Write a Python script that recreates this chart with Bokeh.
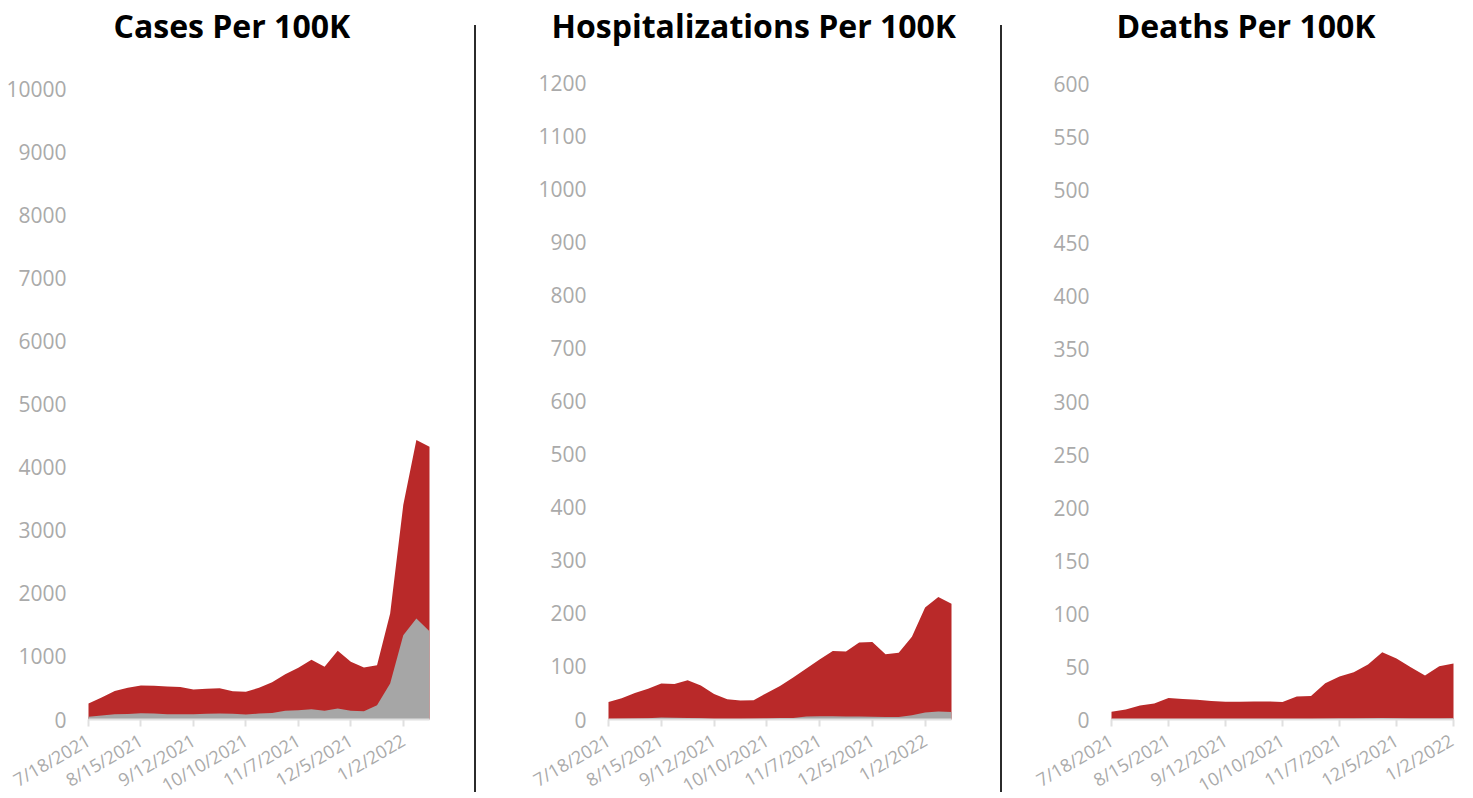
import math
from bokeh.plotting import figure
from bokeh.layouts import row
from bokeh.models import (Range1d, FixedTicker, SingleIntervalTicker, ColumnDataSource,
                          Div, Title)
from bokeh.embed import file_html
from bokeh.resources import INLINE

# ---------------- data ----------------
weeks = ["7/18/2021", "7/25/2021", "8/1/2021", "8/8/2021", "8/15/2021", "8/22/2021",
         "8/29/2021", "9/5/2021", "9/12/2021", "9/19/2021", "9/26/2021", "10/3/2021",
         "10/10/2021", "10/17/2021", "10/24/2021", "10/31/2021", "11/7/2021", "11/14/2021",
         "11/21/2021", "11/28/2021", "12/5/2021", "12/12/2021", "12/19/2021", "12/26/2021",
         "1/2/2022", "1/9/2022", "1/16/2022"]

cases_unvax = [254, 349, 454, 502, 540, 535, 525, 514, 476, 487, 497, 450, 439,
               502, 592, 719, 820, 947, 836, 1090, 915, 825, 862, 1683, 3401, 4433, 4327]
cases_vax = [42, 63, 84, 88, 100, 95, 84, 84, 84, 90, 95, 90, 79,
             95, 105, 137, 148, 164, 137, 175, 137, 132, 227, 571, 1338, 1603, 1401]

hosp_unvax = [33, 40, 50, 58, 68, 67, 74, 64, 48, 38, 36, 36.5, 50,
              63, 79, 96, 113, 129, 128, 145, 146, 123, 126, 156, 211, 231, 218]
hosp_vax = [1, 1.5, 2, 2.5, 4, 3.5, 3, 2.5, 1, 1, 1, 1.5, 2,
            3, 3, 5.5, 6, 6, 5.5, 5.5, 5, 4.5, 4.5, 8, 13, 15, 14]

deaths_unvax = [7.3, 9.5, 13.3, 15.2, 20.3, 19.3, 18.7, 17.4, 16.8, 16.8, 17.1, 17.1, 16.5,
                21.8, 22.2, 34.2, 40.5, 44.6, 51.9, 63.6, 57.6, 49.4, 41.5, 50.3, 52.8]
deaths_vax = [0.2, 0.2, 0.3, 0.3, 0.4, 0.4, 0.4, 0.4, 0.4, 0.4, 0.4, 0.4, 0.4,
              0.5, 0.5, 0.8, 0.9, 1.0, 1.1, 1.3, 1.2, 1.0, 0.9, 1.0, 1.1]

titles = ["Cases Per 100K", "Hospitalizations Per 100K", "Deaths Per 100K"]
y_max_tick = [10000, 1200, 600]
y_steps = [1000, 100, 50]
tick_every = 4

# ---------------- style / geometry ----------------
RED = "#b92929"
GRAY = "#a6a6a6"
LABEL = "#aaaaaa"
AXIS = "#e0e0e0"
FONT = "Open Sans"
H = 798
TOP = 60                # frame top (px from figure top)
ZERO = 719              # y = 0 line (px from figure top)


def make_panel(title, unvax, vax, max_tick, max_tick_px, y_step,
               width, x0_px, xend_px, title_offset):
    n = len(unvax)
    x = list(range(n))
    # frame spans the whole figure width; data from x0_px to xend_px
    sx = (xend_px - x0_px) / (n - 1)
    x_range = Range1d(-x0_px / sx, (n - 1) + (width - xend_px) / sx)
    sy = max_tick_px / max_tick
    y_range = Range1d(-(H - ZERO) / sy, (ZERO - TOP) / sy)

    p = figure(width=width, height=H, x_range=x_range, y_range=y_range,
               output_backend="svg", toolbar_location=None,
               min_border_left=0, min_border_right=0,
               min_border_top=TOP, min_border_bottom=0)
    src = ColumnDataSource(dict(x=x, unvax=unvax, vax=vax))
    p.varea(x="x", y1=0, y2="unvax", source=src, fill_color=RED)
    p.varea(x="x", y1=0, y2="vax", source=src, fill_color=GRAY)

    # title: a thin spacer next to the frame, the real title above it
    p.title.text = ""
    p.add_layout(Title(text=" ", text_font_size="1px", standoff=9), "above")
    p.add_layout(Title(text=title, align="left", vertical_align="top", standoff=0,
                       offset=title_offset, text_font=FONT, text_font_size="32px",
                       text_font_style="bold", text_color="black"), "above")

    p.grid.visible = False
    p.outline_line_color = None
    p.background_fill_color = "white"
    p.border_fill_color = "white"

    ticks = list(range(0, n, tick_every))
    p.xaxis.fixed_location = 0
    p.xaxis.bounds = (0, n - 1)
    p.xaxis.ticker = FixedTicker(ticks=ticks)
    p.xaxis.major_label_overrides = {i: weeks[i] for i in ticks}
    p.xaxis.major_label_orientation = math.pi / 6
    p.xaxis.axis_line_color = AXIS
    p.xaxis.axis_line_width = 2
    p.xaxis.major_tick_line_color = AXIS
    p.xaxis.major_tick_line_width = 2
    p.xaxis.major_tick_out = 7
    p.xaxis.major_tick_in = 0
    p.xaxis.minor_tick_line_color = None
    p.xaxis.major_label_text_color = LABEL
    p.xaxis.major_label_text_font = FONT
    p.xaxis.major_label_text_font_size = "18px"
    p.xaxis.major_label_standoff = 12

    p.yaxis.fixed_location = 0
    p.yaxis.bounds = (0, max_tick)
    p.yaxis.ticker = SingleIntervalTicker(interval=y_step, num_minor_ticks=0)
    p.yaxis.axis_line_color = None
    p.yaxis.major_tick_line_color = None
    p.yaxis.minor_tick_line_color = None
    p.yaxis.major_tick_out = 0
    p.yaxis.major_tick_in = 0
    p.yaxis.major_label_text_color = LABEL
    p.yaxis.major_label_text_font = FONT
    p.yaxis.major_label_text_font_size = "21px"
    p.yaxis.major_label_standoff = 22
    return p


def separator():
    html = ('<div style="margin-left:4px;margin-top:25px;width:1.5px;height:767px;'
            'background:#2b2b2b;"></div>')
    return Div(text=html, width=10, height=H, margin=(0, 0, 0, 0))


p1 = make_panel(titles[0], cases_unvax, cases_vax, y_max_tick[0], 630.5, y_steps[0],
                470, 88, 429, 113)
p2 = make_panel(titles[1], hosp_unvax, hosp_vax, y_max_tick[1], 636.5, y_steps[1],
                516, 128, 471, 71)
p3 = make_panel(titles[2], deaths_unvax, deaths_vax, y_max_tick[2], 635.5, y_steps[2],
                451, 105, 447, 110)

layout = row(p1, separator(), p2, separator(), p3)

open("out.html", "w").write(file_html(layout, INLINE))
